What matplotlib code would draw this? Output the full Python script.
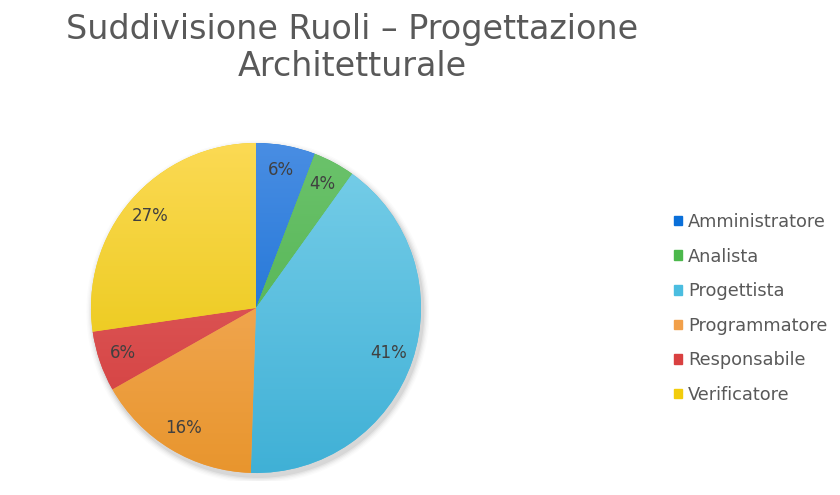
import matplotlib
matplotlib.use("Agg")
import matplotlib.pyplot as plt
import numpy as np
from matplotlib.colors import LinearSegmentedColormap
from matplotlib.patches import Rectangle, Circle

plt.rcParams['font.family'] = ['DejaVu Sans']

categories = ["Amministratore", "Analista", "Progettista", "Programmatore", "Responsabile", "Verificatore"]
values = [5.8, 4.1, 40.6, 16.3, 5.9, 27.3]
top_colors = ["#4a8ee3", "#6cc36c", "#79cfe9", "#f8b56e", "#e36a6a", "#fcda55"]
bottom_colors = ["#0565cf", "#48ad48", "#3fb0d6", "#e8952d", "#d23a3a", "#e3c200"]
legend_colors = ["#0a6fd9", "#4cb84c", "#4bbde0", "#f2a04a", "#d94040", "#f2cc0c"]
title_lines = ["Suddivisione Ruoli – Progettazione", "Architetturale"]

fig = plt.figure(figsize=(8.4, 4.95), dpi=100)
L = 1.05
ax = fig.add_axes([0.0985, 0.0278, 0.4125, 0.70])

# soft shadow
for i, a in enumerate([0.05, 0.04, 0.03, 0.02, 0.015]):
    ax.add_patch(Circle((0.012, -0.022), 1.0 + 0.008 * (i + 1), color="black", alpha=a, lw=0, zorder=0))

wedges, texts, autotexts = ax.pie(
    values, startangle=90, counterclock=False, radius=1.0,
    colors=legend_colors, autopct=lambda p: f"{p:.0f}%", pctdistance=0.85,
    wedgeprops=dict(linewidth=0), textprops=dict(color="#404040", fontsize=12))

grad = np.linspace(1, 0, 256).reshape(-1, 1)
for w, tc, bc in zip(wedges, top_colors, bottom_colors):
    cmap = LinearSegmentedColormap.from_list("g", [bc, tc])
    im = ax.imshow(grad, cmap=cmap, extent=(-1.02, 1.02, -1.02, 1.02), origin="upper",
                   aspect="auto", zorder=1.5, interpolation="bilinear", vmin=0, vmax=1)
    im.set_clip_path(w)
for t in autotexts:
    t.set_zorder(3)

ax.set_xlim(-L, L)
ax.set_ylim(-L, L)
ax.set_aspect("equal")
ax.axis("off")

fig.text(352 / 840, 1 - 29 / 495, title_lines[0], ha="center", va="center", fontsize=24, color="#595959")
fig.text(352 / 840, 1 - 66 / 495, title_lines[1], ha="center", va="center", fontsize=24, color="#595959")

handles = [Rectangle((0, 0), 1, 1, color=c) for c in legend_colors]
leg = fig.legend(handles, categories, loc="center left", bbox_to_anchor=(0.802, 0.377),
                 frameon=False, fontsize=12.8, labelcolor="#595959", handlelength=0.45,
                 handleheight=0.45, handletextpad=0.35, labelspacing=0.93, borderaxespad=0, borderpad=0)

fig.savefig("out.png", dpi=100)
